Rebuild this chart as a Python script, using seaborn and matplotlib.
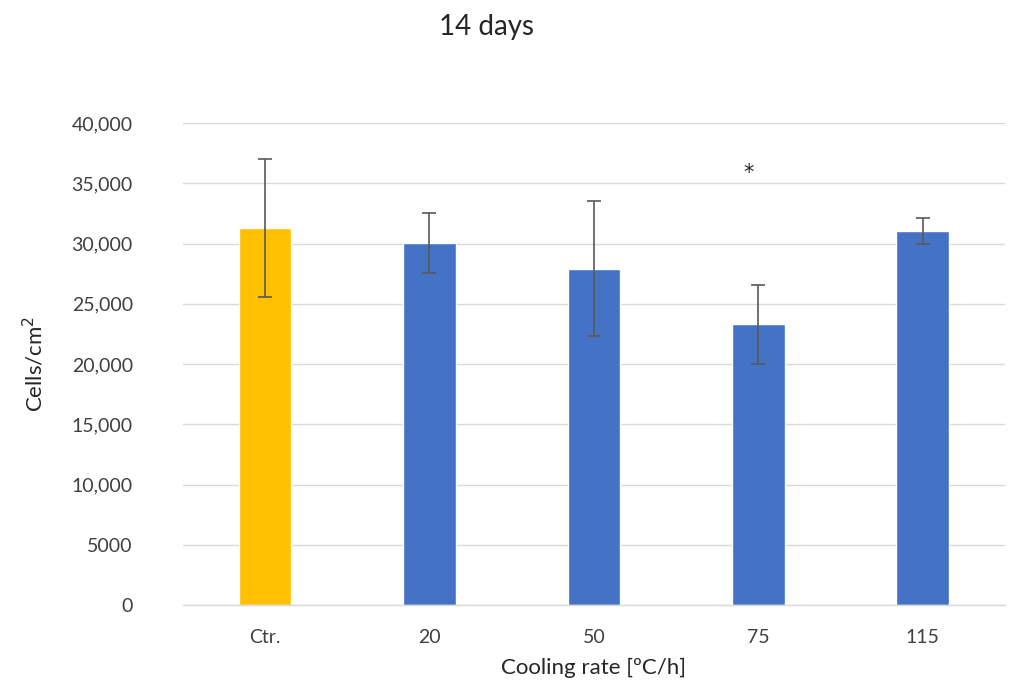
import matplotlib
matplotlib.use("Agg")
import matplotlib.pyplot as plt
import seaborn as sns
import pandas as pd
import numpy as np
from matplotlib.ticker import FuncFormatter

categories = ["Ctr.", "20", "50", "75", "115"]
means = [31300, 30050, 27900, 23300, 31050]
errors = [5750, 2500, 5600, 3300, 1050]
bar_colors = ["#FFC000", "#4472C4", "#4472C4", "#4472C4", "#4472C4"]
significance = ["", "", "", "*", ""]

sns.set_theme(style="white")
plt.rcParams['font.family'] = ['Lato', 'DejaVu Sans']

df = pd.DataFrame({"cat": categories, "val": means})

fig = plt.figure(figsize=(10.10, 6.86), dpi=100)
ax = fig.add_axes([0.181, 0.118, 0.814, 0.7025])

sns.barplot(data=df, x="cat", y="val", hue="cat", palette=bar_colors,
            width=0.32, ax=ax, legend=False, errorbar=None, saturation=1)

ax.errorbar(np.arange(len(categories)), means, yerr=errors, fmt="none",
            ecolor="#595959", elinewidth=1.2, capsize=5, capthick=1.2, zorder=5)

for i, s in enumerate(significance):
    if s:
        ax.text(i - 0.06, 35900, s, ha="center", va="center", fontsize=15,
                color="#262626", family="DejaVu Sans")

ax.set_ylim(0, 40000)
ax.set_xlim(-0.5, len(categories) - 0.5)
ax.set_yticks(np.arange(0, 40001, 5000))

def fmt(v, pos):
    v = int(round(v))
    if v < 10000:
        return f"{v}"
    return f"{v:,}"
ax.yaxis.set_major_formatter(FuncFormatter(fmt))

ax.grid(axis="y", color="#d9d9d9", linewidth=1)
ax.set_axisbelow(True)
for sp in ["top", "right", "left"]:
    ax.spines[sp].set_visible(False)
ax.spines["bottom"].set_color("#d9d9d9")
ax.spines["bottom"].set_linewidth(1)

ax.tick_params(axis="both", length=0, labelsize=14, colors="#404040")
ax.tick_params(axis="y", pad=36)
ax.tick_params(axis="x", pad=17)

ax.set_xlabel("Cooling rate [ºC/h]", fontsize=16, color="#262626", labelpad=9)
ax.set_ylabel("Cells/cm$^2$", fontsize=16, color="#262626", labelpad=18)

fig.text(0.482, 0.96, "14 days", ha="center", va="center", fontsize=20, color="#262626")

fig.savefig("out.png", dpi=100)
